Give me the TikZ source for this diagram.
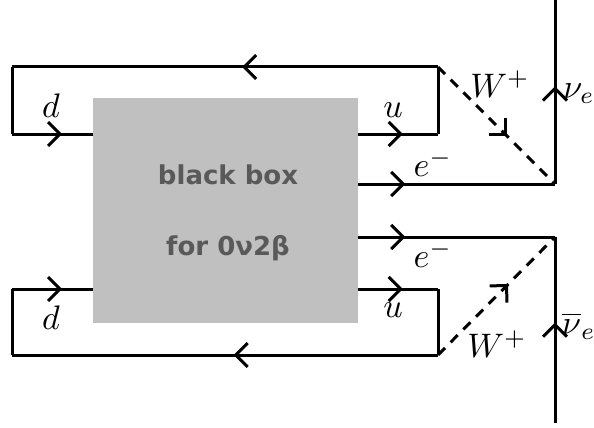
\documentclass[tikz,border=0pt]{standalone}
\usepackage{fontspec}
\newfontfamily\boxfont{DejaVu Sans}
\usetikzlibrary{decorations.markings,arrows.meta}
\definecolor{boxgray}{HTML}{C0C0C0}
\definecolor{boxtext}{HTML}{595959}
\tikzset{
  line/.style={line width=3pt},
  wline/.style={line width=3pt,dash pattern=on 10pt off 8pt},
  chev/.style={postaction={decorate},decoration={markings,
     mark=at position #1 with {\arrow{Straight Barb[length=12pt,width=24pt,line width=3pt]}}}},
  lbl/.style={inner sep=0pt,scale=3.4},
  bbox/.style={fill=boxgray,draw=none,minimum width=265pt,minimum height=225pt,inner sep=0pt},
  btxt/.style={inner sep=0pt,text=boxtext,font=\boxfont\bfseries\fontsize{26}{30}\selectfont}
}
\begin{document}
\begin{tikzpicture}[x=1pt,y=-1pt]
\useasboundingbox (0,0) rectangle (594,428);
% coordinates
\coordinate (tl) at (12,67);
\coordinate (tr) at (438,67);
\coordinate (tdl) at (12,134);
\coordinate (tdb) at (93,134);
\coordinate (tub) at (358,134);
\coordinate (tur) at (438,134);
\coordinate (teb) at (358,184);
\coordinate (tv) at (555,184);
\coordinate (ttop) at (555,0);
\coordinate (beb) at (358,237);
\coordinate (bv) at (555,237);
\coordinate (bbot) at (555,423);
\coordinate (bub) at (358,289);
\coordinate (bur) at (438,289);
\coordinate (bdb) at (93,289);
\coordinate (bdl) at (12,289);
\coordinate (bl) at (12,355);
\coordinate (br) at (438,355);
% box
\node[bbox] (box) at (225.5,210.5) {};
\node[btxt] (t1) at (228,175) {black box};
\node[btxt] (t2) at (228,248) {for 0ν2β};
% top loop
\draw[line,chev=0.46] (tr) -- (tl);
\draw[line] (tl) -- (tdl);
\draw[line,chev=0.62] (tdl) -- (tdb);
\draw[line,chev=0.56] (tub) -- (tur);
\draw[line] (tur) -- (tr);
% top electron and neutrino
\draw[line,chev=0.24] (teb) -- (tv);
\draw[line,chev=0.53] (tv) -- (ttop);
\draw[wline,chev=0.59] (tr) -- (tv);
% bottom electron and antineutrino
\draw[line,chev=0.24] (beb) -- (bv);
\draw[line,chev=0.54] (bbot) -- (bv);
\draw[wline,chev=0.6] (br) -- (bv);
% bottom loop
\draw[line,chev=0.56] (bub) -- (bur);
\draw[line] (bur) -- (br);
\draw[line,chev=0.48] (br) -- (bl);
\draw[line] (bl) -- (bdl);
\draw[line,chev=0.62] (bdl) -- (bdb);
% labels
\node[lbl] (ld1) at (51,106) {$d$};
\node[lbl] (ld2) at (51,318) {$d$};
\node[lbl] (lu1) at (393,110) {$u$};
\node[lbl] (lu2) at (393,310) {$u$};
\node[lbl] (le1) at (433,163) {$e^-$};
\node[lbl] (le2) at (433,254) {$e^-$};
\node[lbl] (lw1) at (500,84) {$W^+$};
\node[lbl] (lw2) at (497,344) {$W^+$};
\node[lbl] (ln1) at (579,94) {$\nu_e$};
\node[lbl] (ln2) at (579,326) {$\overline{\nu}_e$};
\end{tikzpicture}
\end{document}
